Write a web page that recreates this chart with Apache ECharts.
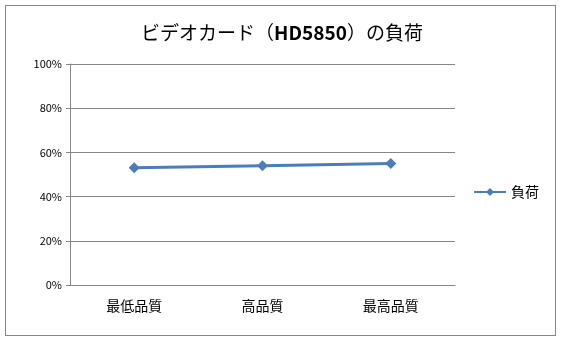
<!DOCTYPE html>
<html>
<head>
<meta charset="utf-8">
<script src="https://cdn.jsdelivr.net/npm/echarts@6/dist/echarts.min.js"></script>
<style>
  html, body { margin: 0; padding: 0; background: #fff; }
  #main { width: 564px; height: 342px; }
  #frame { position: absolute; left: 5px; top: 5px; width: 551px; height: 331px; border: 1px solid #868686; box-sizing: border-box; pointer-events: none; }
</style>
</head>
<body>
<div id="main"></div>
<div id="frame"></div>
<script>
var categories = ['最低品質', '高品質', '最高品質'];
var loadValues = [53, 54, 55];
var yTicks = [0, 20, 40, 60, 80, 100];

var chart = echarts.init(document.getElementById('main'));
var font = '"Noto Sans CJK JP", "Noto Sans", sans-serif';

chart.setOption({
  animation: false,
  title: {
    text: 'ビデオカード（{b|HD5850}）の負荷',
    left: 'center',
    top: 18,
    textStyle: {
      fontFamily: font, fontSize: 19, fontWeight: 'normal', color: '#000',
      rich: { b: { fontFamily: font, fontSize: 19, fontWeight: 'bold', color: '#000' } }
    }
  },
  legend: {
    data: ['負荷'],
    right: 20,
    top: 180,
    itemWidth: 32,
    itemHeight: 10,
    itemGap: 4,
    textStyle: { fontFamily: font, fontSize: 14, color: '#000' }
  },
  grid: { left: 70, right: 109, top: 64, bottom: 57 },
  xAxis: {
    type: 'category',
    data: categories,
    boundaryGap: true,
    axisLine: { lineStyle: { color: '#868686' } },
    axisTick: { length: 4, lineStyle: { color: '#868686' } },
    axisLabel: { fontFamily: font, fontSize: 14, color: '#000', margin: 14 }
  },
  yAxis: {
    type: 'value',
    min: yTicks[0],
    max: yTicks[yTicks.length - 1],
    interval: 20,
    axisLine: { show: true, lineStyle: { color: '#868686' } },
    axisTick: { show: true, length: 4, lineStyle: { color: '#868686' } },
    splitLine: { lineStyle: { color: '#868686' } },
    axisLabel: { fontFamily: font, fontSize: 11, color: '#000', margin: 8, formatter: '{value}%' }
  },
  series: [{
    name: '負荷',
    type: 'line',
    data: loadValues,
    symbol: 'diamond',
    symbolSize: 11,
    lineStyle: { color: '#4a7ebb', width: 3 },
    itemStyle: { color: '#4a7ebb' }
  }]
});
</script>
</body>
</html>
